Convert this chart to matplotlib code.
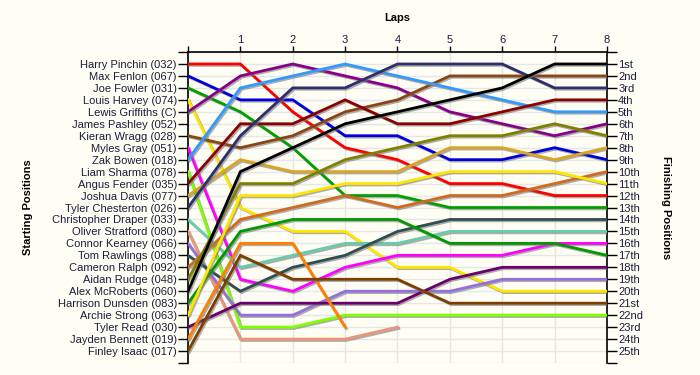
import matplotlib
matplotlib.use("Agg")
import matplotlib.pyplot as plt
import matplotlib.patheffects as pe

# starting grid (top to bottom)
drivers = ["Harry Pinchin (032)", "Max Fenlon (067)", "Joe Fowler (031)", "Louis Harvey (074)",
           "Lewis Griffiths (C)", "James Pashley (052)", "Kieran Wragg (028)", "Myles Gray (051)",
           "Zak Bowen (018)", "Liam Sharma (078)", "Angus Fender (035)", "Joshua Davis (077)",
           "Tyler Chesterton (026)", "Christopher Draper (033)", "Oliver Stratford (080)",
           "Connor Kearney (066)", "Tom Rawlings (088)", "Cameron Ralph (092)", "Aidan Rudge (048)",
           "Alex McRoberts (060)", "Harrison Dunsden (083)", "Archie Strong (063)",
           "Tyler Read (030)", "Jayden Bennett (019)", "Finley Isaac (017)"]

finish_labels = ["1st", "2nd", "3rd", "4th", "5th", "6th", "7th", "8th", "9th", "10th",
                 "11th", "12th", "13th", "14th", "15th", "16th", "17th", "18th", "19th",
                 "20th", "21st", "22nd", "23rd", "24th", "25th"]

laps = [0, 1, 2, 3, 4, 5, 6, 7, 8]

# position after each lap (lap 0 = grid), shorter lists = retired
positions = [
    [1, 1, 5, 8, 9, 11, 11, 12, 12],
    [2, 4, 4, 7, 7, 9, 9, 8, 9],
    [3, 5, 8, 12, 12, 13, 13, 13, 13],
    [4, 13, 15, 15, 18, 18, 20, 20, 20],
    [5, 2, 1, 2, 3, 5, 6, 7, 6],
    [],
    [7, 8, 7, 5, 4, 2, 2, 2, 2],
    [8, 19, 20, 18, 17, 17, 17, 16, 16],
    [9, 3, 2, 1, 2, 3, 4, 5, 5],
    [10, 23, 23, 22, 22, 22, 22, 22, 22],
    [11, 6, 6, 4, 6, 6, 5, 4, 4],
    [12, 9, 10, 10, 10, 8, 8, 9, 8],
    [13, 7, 3, 3, 1, 1, 1, 3, 3],
    [14, 18, 17, 16, 16, 15, 15, 15, 15],
    [15, 24, 24, 24, 23],
    [16, 22, 22, 20, 20, 20, 19, 19, 19],
    [17, 20, 18, 17, 15, 14, 14, 14, 14],
    [18, 14, 13, 12, 13, 12, 12, 11, 10],
    [19, 11, 11, 9, 8, 7, 7, 6, 7],
    [20, 10, 8, 6, 5, 4, 3, 1, 1],
    [21, 15, 14, 14, 14, 16, 16, 16, 17],
    [22, 12, 12, 11, 11, 10, 10, 10, 11],
    [23, 21, 21, 21, 21, 19, 18, 18, 18],
    [24, 16, 16, 23],
    [25, 17, 19, 19, 19, 21, 21, 21, 21],
]

colors = ["#FF0000", "#0000DD", "#00A000", "#FFE600", "#880088", "#888888", "#8B4513",
          "#FF00FF", "#3399FF", "#7FFF00", "#8B0000", "#DAA520", "#2E2E6E", "#66CDAA",
          "#E9967A", "#9370DB", "#2F4F4F", "#D2691E", "#808000", "#000000", "#009900",
          "#FFE600", "#6A006A", "#FF7F00", "#7B3F00"]

bg = "#FEFEF4"
txt = "#1C1C3C"
n = len(drivers)

fig = plt.figure(figsize=(7, 3.75), dpi=100, facecolor=bg)
ax = fig.add_axes([0.2686, 0.032, 0.5985, 0.8293])
ax.set_facecolor(bg)

shadow = [pe.SimpleLineShadow(offset=(1, -1), shadow_color="#777777", alpha=0.6), pe.Normal()]
for pos, c in zip(positions, colors):
    if not pos:
        continue
    ax.plot(laps[:len(pos)], pos, color=c, lw=2.0, solid_joinstyle="miter",
            path_effects=shadow, zorder=3)

ax.set_xlim(0, 8)
ax.set_ylim(n + 1, 0)

ax.set_xticks(laps)
ax.set_xticklabels([""] + [str(l) for l in laps[1:]])
ax.xaxis.tick_top()
ax.set_yticks(range(0, n + 2))
ax.set_yticklabels([""] + drivers + [""])
ax.grid(True, color="#E6E6E6", lw=1.0, zorder=0)

ax.tick_params(axis="x", top=True, bottom=False, length=4, width=1, colors="black",
               labelcolor=txt, labelsize=8, pad=1)
ax.tick_params(axis="y", left=True, length=7, width=1, colors="black",
               labelcolor=txt, labelsize=8, pad=1)
for s in ["top", "left", "right"]:
    ax.spines[s].set_color("black")
    ax.spines[s].set_linewidth(1.2)
ax.spines["bottom"].set_visible(False)

for lab in ax.get_xticklabels() + ax.get_yticklabels():
    lab.set_family("Liberation Sans")

ax2 = ax.twinx()
ax2.set_ylim(n + 1, 0)
ax2.set_yticks(range(0, n + 2))
ax2.set_yticklabels([""] + finish_labels + [""], family="Liberation Sans")
ax2.tick_params(axis="y", right=True, length=7, width=1, colors="black",
                labelcolor=txt, labelsize=8, pad=1)
for s in ax2.spines.values():
    s.set_visible(False)

fig.text(0.568, 0.952, "Laps", ha="center", va="center", fontsize=8, fontweight="bold",
         family="Liberation Sans")
fig.text(0.04, 0.447, "Starting Positions", ha="center", va="center", rotation=90,
         fontsize=8, fontweight="bold", family="Liberation Sans")
fig.text(0.952, 0.447, "Finishing Positions", ha="center", va="center", rotation=270,
         fontsize=8, fontweight="bold", family="Liberation Sans")

fig.savefig("out.png", dpi=100, facecolor=bg)
